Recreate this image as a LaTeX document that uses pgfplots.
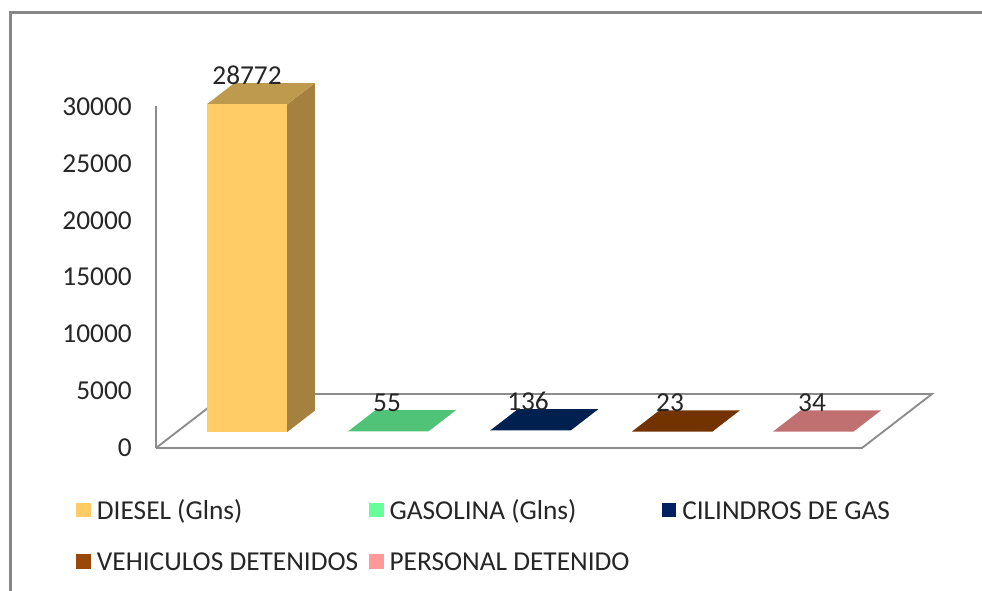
\documentclass[border=0pt]{standalone}
\usepackage{fontspec}
\setmainfont{Carlito}
\usepackage{pgfplots}
\pgfplotsset{compat=1.18}
\definecolor{txt}{HTML}{262626}
\definecolor{grayline}{HTML}{8C8C8C}
\definecolor{framec}{HTML}{868686}
\definecolor{dieselF}{HTML}{FFCC66}
\definecolor{dieselS}{HTML}{A5813F}
\definecolor{dieselT}{HTML}{BE9A4F}
\definecolor{gasF}{HTML}{66FF99}
\definecolor{gasT}{HTML}{50C378}
\definecolor{cilF}{HTML}{002060}
\definecolor{cilT}{HTML}{002050}
\definecolor{vehF}{HTML}{984807}
\definecolor{vehT}{HTML}{733300}
\definecolor{perF}{HTML}{FF9999}
\definecolor{perT}{HTML}{C07070}
\begin{document}
\begin{tikzpicture}
\useasboundingbox (0,0) rectangle (736.5pt,443.25pt);
% chart frame, only top and left edge are in the crop
\draw[framec,line width=2pt] (7.9pt,0) -- (7.9pt,433.7pt) -- (736.5pt,433.7pt);
\begin{axis}[
at={(117pt,107.25pt)},
anchor=origin,
x={(0.75pt,0pt)},
y={(0.972pt,0.75pt)},
z={(0pt,0.00855pt)},
xmin=0,xmax=706,
ymin=0,ymax=54,
zmin=0,zmax=30000,
clip=false,
axis lines=left,
axis line style={-,grayline,line width=1.4pt},
x axis line style={draw=none},
y axis line style={draw=none},
xtick=\empty,
ytick=\empty,
ztick={0,5000,10000,15000,20000,25000,30000},
scaled z ticks=false,
major tick length=0pt,
tick label style={font=\fontsize{20.5}{22}\selectfont,text=txt},
z tick label style={anchor=east,inner sep=0pt,xshift=-18pt},
/pgf/number format/assume math mode=true,
/pgf/number format/1000 sep={},
/pgf/number format/fixed,
legend cell align=left,
legend columns=3,
legend image code/.code={\fill[#1] (0pt,-5.5pt) rectangle (11pt,5.5pt);},
legend style={
at={(axis cs:-80,0,-4420)},
anchor=north west,
draw=none,
fill=none,
font=\fontsize{20.5}{22}\selectfont,
text=txt,
row sep=22pt,
column sep=0pt,
inner sep=0pt,
nodes={inner sep=0pt,outer sep=0pt}
}
]
% floor
\addplot3[grayline,line width=1.4pt,forget plot,no marks] coordinates {(0,0,0) (706,0,0) (706,54,0) (0,54,0) (0,0,0)};

% diesel
\addplot3[fill=dieselS,draw=none,forget plot,no marks] coordinates {(110.5,16,0) (110.5,37.3,0) (110.5,37.3,28772) (110.5,16,28772)};
\addplot3[fill=dieselT,draw=none,forget plot,no marks] coordinates {(30,16,28772) (110.5,16,28772) (110.5,37.3,28772) (30,37.3,28772)};
\addplot3[fill=dieselF,draw=none,forget plot,no marks] coordinates {(30,16,0) (110.5,16,0) (110.5,16,28772) (30,16,28772)};
% the other four are nearly flat, only the top shows
\addplot3[fill=gasT,draw=none,forget plot,no marks] coordinates {(171.3,16,55) (251.8,16,55) (251.8,37.3,55) (171.3,37.3,55)};
\addplot3[fill=cilT,draw=none,forget plot,no marks] coordinates {(313.5,16,136) (394,16,136) (394,37.3,136) (313.5,37.3,136)};
\addplot3[fill=vehT,draw=none,forget plot,no marks] coordinates {(455,16,23) (535.5,16,23) (535.5,37.3,23) (455,37.3,23)};
\addplot3[fill=perT,draw=none,forget plot,no marks] coordinates {(596.3,16,34) (676.8,16,34) (676.8,37.3,34) (596.3,37.3,34)};

% value labels
\addplot3[draw=none,no marks,forget plot,point meta=z,
nodes near coords,
nodes near coords style={anchor=south,inner sep=0pt,yshift=-1.5pt,text=txt,font=\fontsize{20.5}{22}\selectfont,
/pgf/number format/assume math mode=true,/pgf/number format/1000 sep={},/pgf/number format/fixed}]
coordinates {(42.7,37.3,28772) (182.7,37.3,55) (323.7,37.3,136) (465.7,37.3,23) (607.7,37.3,34)};

\addlegendimage{fill=dieselF,draw=none}
\addlegendimage{fill=gasF,draw=none}
\addlegendimage{fill=cilF,draw=none}
\addlegendimage{fill=vehF,draw=none}
\addlegendimage{fill=perF,draw=none}
\legend{
\hspace{4.5pt}\makebox[204pt][l]{\strut DIESEL (Glns)},
\hspace{4.5pt}\makebox[204pt][l]{\strut GASOLINA (Glns)},
\hspace{4.5pt}\makebox[204pt][l]{\strut CILINDROS DE GAS},
\hspace{4.5pt}\makebox[204pt][l]{\strut VEHICULOS DETENIDOS},
\hspace{4.5pt}\makebox[204pt][l]{\strut PERSONAL DETENIDO}
}
\end{axis}
\end{tikzpicture}
\end{document}
